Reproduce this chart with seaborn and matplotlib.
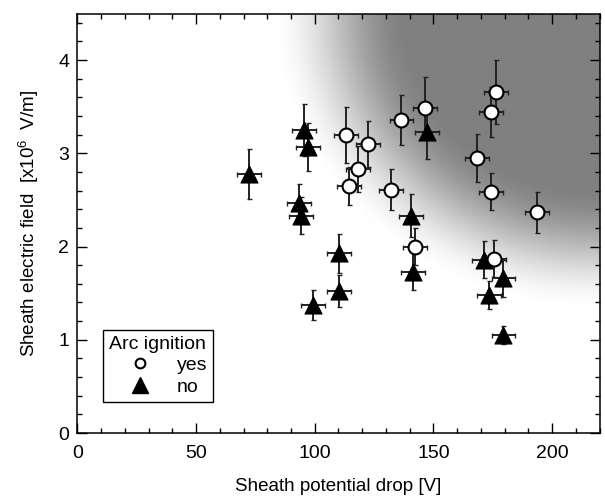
import numpy as np
import pandas as pd
import matplotlib
matplotlib.use("Agg")
import matplotlib.pyplot as plt
import seaborn as sns
from matplotlib.lines import Line2D
from matplotlib.ticker import MultipleLocator

# ---- data ----
yes_v = [113.2, 122.4, 118.3, 114.4, 136.5, 146.3, 176.5, 174.4, 168.5, 174.4, 193.5, 132.2, 142.2, 175.5]
yes_e = [3.20, 3.10, 2.83, 2.65, 3.36, 3.49, 3.66, 3.44, 2.95, 2.59, 2.37, 2.61, 2.00, 1.87]
yes_yerr = [0.30, 0.25, 0.25, 0.20, 0.27, 0.33, 0.34, 0.27, 0.26, 0.20, 0.22, 0.22, 0.20, 0.20]
yes_xerr = [5] * len(yes_v)

no_v = [72.2, 95.5, 97.2, 93.3, 94.3, 147.4, 140.4, 110.1, 141.5, 171.1, 179.5, 173.4, 110.1, 99.3, 179.5]
no_e = [2.78, 3.25, 3.07, 2.47, 2.33, 3.23, 2.33, 1.93, 1.73, 1.86, 1.66, 1.48, 1.52, 1.37, 1.05]
no_yerr = [0.27, 0.28, 0.26, 0.20, 0.20, 0.29, 0.23, 0.21, 0.20, 0.20, 0.20, 0.15, 0.17, 0.16, 0.10]
no_xerr = [5] * len(no_v)

xlim = (0, 220)
ylim = (0, 4.5)

df = pd.DataFrame({
    "V": yes_v + no_v,
    "E": yes_e + no_e,
    "xerr": yes_xerr + no_xerr,
    "yerr": yes_yerr + no_yerr,
    "arc": ["yes"] * len(yes_v) + ["no"] * len(no_v),
})

sns.set_theme(style="ticks")
plt.rcParams["font.family"] = ["Liberation Sans", "DejaVu Sans"]
plt.rcParams["mathtext.fontset"] = "custom"
plt.rcParams["mathtext.rm"] = "Liberation Sans"
plt.rcParams["mathtext.default"] = "regular"
for k in ("text.color", "axes.labelcolor", "xtick.color", "ytick.color", "axes.edgecolor"):
    plt.rcParams[k] = "black"

fig = plt.figure(figsize=(6.05, 5.0), dpi=100)
ax = fig.add_axes([0.128, 0.134, 0.863, 0.839])

# ---- background radial shading (upper right) ----
nx, ny = 440, 360
gx = np.linspace(0, 1, nx)
gy = np.linspace(0, 1, ny)
GX, GY = np.meshgrid(gx, gy)
dx = (1 - GX) * 522
dy = (1 - GY) * 420 * 1.1
r = np.sqrt(dx ** 2 + dy ** 2)
t = np.clip((r - 190) / (330 - 190), 0, 1)
t = t * t * (3 - 2 * t)
gray = 0.5 + (1 - 0.5) * t
ax.imshow(gray, extent=(xlim[0], xlim[1], ylim[0], ylim[1]), origin="lower",
          cmap="gray", vmin=0, vmax=1, aspect="auto", interpolation="bilinear", zorder=0)

# ---- error bars ----
for sub in (df[df.arc == "no"], df[df.arc == "yes"]):
    ax.errorbar(sub.V, sub.E, xerr=sub.xerr, yerr=sub.yerr, fmt="none",
                ecolor="#222222", elinewidth=1.4, capsize=1.8, capthick=1.0, zorder=2)

# ---- markers ----
sns.scatterplot(data=df[df.arc == "no"], x="V", y="E", marker="^", s=150,
                color="black", edgecolor="black", linewidth=0.8, legend=False, ax=ax, zorder=3)
sns.scatterplot(data=df[df.arc == "yes"], x="V", y="E", marker="o", s=100,
                color="white", edgecolor="black", linewidth=1.5, legend=False, ax=ax, zorder=4)

ax.set_xlim(*xlim)
ax.set_ylim(*ylim)
ax.xaxis.set_major_locator(MultipleLocator(50))
ax.xaxis.set_minor_locator(MultipleLocator(10))
ax.yaxis.set_major_locator(MultipleLocator(1))
ax.yaxis.set_minor_locator(MultipleLocator(0.2))
ax.tick_params(which="both", direction="in", top=True, right=True, width=1.0, color="black")
ax.tick_params(which="major", length=7.5, labelsize=14)
ax.tick_params(axis="x", which="major", pad=9)
ax.tick_params(axis="y", which="major", pad=6)
ax.tick_params(which="minor", length=3.5)
for sp in ax.spines.values():
    sp.set_linewidth(1.1)
    sp.set_color("black")

ax.set_xlabel("Sheath potential drop [V]", fontsize=13.5, labelpad=11)
ax.set_ylabel(r"Sheath electric field  [x10$^{6}$  V/m]", fontsize=13.5, labelpad=12)

handles = [
    Line2D([], [], marker="o", linestyle="none", markersize=7, markerfacecolor="white",
           markeredgecolor="black", markeredgewidth=1.5, label="yes"),
    Line2D([], [], marker="^", linestyle="none", markersize=11, markerfacecolor="black",
           markeredgecolor="black", label="no"),
]
leg = ax.legend(handles=handles, title="Arc ignition", loc="lower left",
                bbox_to_anchor=(0.049, 0.075), borderaxespad=0, fontsize=14,
                title_fontsize=14, frameon=True, fancybox=False, framealpha=1,
                edgecolor="black", handlelength=3.2, handletextpad=0.3,
                labelspacing=0.2, borderpad=0.3)
leg.get_frame().set_linewidth(1.0)
leg._legend_box.align = "left"

fig.savefig("out.png", dpi=100)
